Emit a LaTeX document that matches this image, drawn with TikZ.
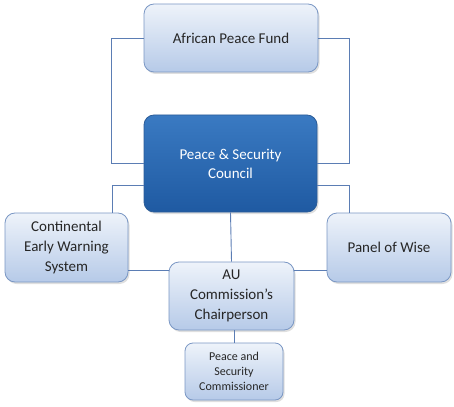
\documentclass[tikz,border=0pt]{standalone}
\usepackage{fontspec}
\setmainfont{Carlito}
\usetikzlibrary{positioning, calc, shadows}
\definecolor{boxtop}{HTML}{EEF3FA}
\definecolor{boxbot}{HTML}{B6CAE8}
\definecolor{boxedge}{HTML}{7A97C4}
\definecolor{psctop}{HTML}{3A7AC2}
\definecolor{pscbot}{HTML}{1F5AA2}
\definecolor{pscedge}{HTML}{2B5C98}
\definecolor{linkblue}{HTML}{5B7DB4}
\definecolor{inktext}{HTML}{262626}

\tikzset{
  unitbox/.style={draw=boxedge, line width=0.8pt, rounded corners=10pt,
    top color=boxtop, bottom color=boxbot, text=inktext, align=center,
    inner sep=2pt, font=\fontsize{15}{20}\selectfont,
    drop shadow={shadow xshift=1.5pt, shadow yshift=-2pt, opacity=0.25}},
  councilbox/.style={unitbox, draw=pscedge, top color=psctop, bottom color=pscbot,
    text=white, font=\fontsize{15}{19}\selectfont},
  link/.style={draw=linkblue, line width=0.9pt}
}

\begin{document}
\begin{tikzpicture}[x=1pt, y=-1pt]

% canvas
\useasboundingbox (0,0) rectangle (454,406);

% boxes
\node[unitbox, minimum width=174pt, minimum height=68pt] (apf) at (231,38) {African Peace Fund};
\node[councilbox, minimum width=173pt, minimum height=97pt] (psc) at (230.5,163.5) {Peace \& Security\\Council};
\node[unitbox, minimum width=123pt, minimum height=69pt] (cews) at (66.5,247.5) {Continental\\Early Warning\\System};
\node[unitbox, minimum width=124pt, minimum height=69pt] (wise) at (389,247.5) {Panel of Wise};
\node[unitbox, minimum width=125pt, minimum height=68pt] (au) at (231.5,296) {AU\\Commission’s\\Chairperson};
\node[unitbox, rounded corners=8pt, minimum width=98pt, minimum height=57pt,
      font=\fontsize{12}{15}\selectfont] (comm) at (234,371.5) {Peace and\\Security\\Commissioner};

% fund links
\draw[link] (apf.west) -- ++(-32,0) |- (psc.west);
\draw[link] (apf.east) -- ++(31,0) |- (psc.east);

% council links
\draw[link] ([yshift=-21.5pt]psc.west) -| ([xshift=45.5pt]cews.north);
\draw[link] ([yshift=-21.5pt]psc.east) -| ([xshift=-40pt]wise.north);
\draw[link] (psc.south) -- (au.north);

% chairperson links
\draw[link] ([yshift=-22.5pt]cews.east) -- ([yshift=-22.5pt]cews.east -| au.west);
\draw[link] ([yshift=-22.5pt]wise.west) -- ([yshift=-22.5pt]wise.west -| au.east);
\draw[link] (au.south -| comm.north) -- (comm.north);

\end{tikzpicture}
\end{document}
